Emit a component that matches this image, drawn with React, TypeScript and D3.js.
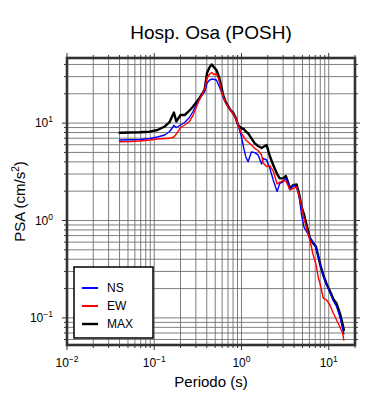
import React from 'react';
import * as d3 from 'd3';

const periods = [0.04, 0.052, 0.068, 0.089, 0.109, 0.132, 0.15, 0.168, 0.179, 0.2, 0.223, 0.25, 0.276, 0.307, 0.332, 0.36, 0.379, 0.403, 0.432, 0.456, 0.481, 0.516, 0.553, 0.589, 0.615, 0.66, 0.702, 0.748, 0.801, 0.86, 0.914, 1.0, 1.063, 1.12, 1.19, 1.3, 1.42, 1.55, 1.7, 1.77, 1.94, 2.11, 2.31, 2.56, 2.75, 3.0, 3.23, 3.43, 3.59, 3.91, 4.28, 4.58, 4.88, 5.19, 5.57, 6.08, 6.59, 7.13, 7.57, 8.07, 8.65, 9.46, 10.3, 11.3, 12.3, 13.4, 14.4, 14.9];

const nsValues = [6.71, 6.74, 6.79, 6.95, 7.2, 7.55, 8.2, 9.45, 9.01, 9.56, 10.14, 11.28, 13.0, 15.71, 17.68, 19.9, 21.01, 25.8, 27.7, 28.36, 28.16, 27.7, 24.04, 20.86, 18.54, 16.09, 14.63, 13.63, 12.4, 11.28, 9.56, 7.2, 5.51, 4.52, 4.02, 5.05, 4.97, 4.71, 3.8, 4.35, 4.18, 3.44, 2.61, 1.98, 2.41, 2.5, 2.71, 2.41, 2.06, 2.31, 2.22, 1.76, 1.139, 0.864, 0.767, 0.677, 0.602, 0.534, 0.432, 0.341, 0.269, 0.218, 0.1845, 0.1491, 0.1309, 0.1029, 0.0787, 0.0684];

const ewValues = [6.44, 6.47, 6.55, 6.71, 6.87, 6.95, 6.98, 7.2, 7.73, 9.01, 9.56, 10.26, 11.83, 14.98, 17.68, 20.37, 22.39, 29.04, 31.92, 33.07, 31.55, 31.92, 27.7, 21.61, 18.97, 16.09, 14.63, 13.63, 12.4, 11.28, 9.56, 7.82, 7.2, 6.71, 6.4, 5.96, 5.51, 5.23, 4.71, 3.89, 3.58, 3.67, 3.22, 2.37, 2.48, 2.57, 2.54, 2.26, 2.06, 2.14, 2.22, 1.785, 1.409, 1.061, 0.838, 0.631, 0.453, 0.358, 0.263, 0.2126, 0.16, 0.1527, 0.1357, 0.1115, 0.0951, 0.0812, 0.07, 0.0593];

const maxValues = [7.97, 8.01, 8.05, 8.16, 8.5, 9.23, 10.26, 12.85, 10.39, 12.11, 12.11, 13.31, 14.63, 16.59, 18.23, 20.37, 22.39, 32.69, 37.67, 39.96, 37.67, 35.09, 29.74, 23.48, 19.44, 16.47, 14.98, 13.63, 12.85, 11.28, 9.56, 8.85, 8.7, 8.2, 7.86, 6.98, 6.2, 5.82, 5.55, 5.68, 5.96, 4.59, 3.71, 3.0, 2.71, 2.71, 2.86, 2.43, 2.14, 2.31, 2.34, 1.87, 1.39, 1.166, 0.899, 0.661, 0.587, 0.541, 0.432, 0.341, 0.276, 0.223, 0.189, 0.156, 0.1405, 0.1122, 0.0866, 0.0751];

const xTickExps = [-2, -1, 0, 1];
const yTickExps = [-1, 0, 1];
const seriesNames = ['NS', 'EW', 'MAX'];
const seriesColors = ['#0000ff', '#ff0000', '#000000'];
const titleText = 'Hosp. Osa (POSH)';
const xLabel = 'Periodo (s)';

const FONT = '"Liberation Sans", Arial, Helvetica, sans-serif';

export default function App() {
  const W = 390, H = 400;
  const L = 67, R = 355, T = 58, B = 345;
  const x = d3.scaleLog().domain([0.01, 20]).range([L, R]);
  const y = d3.scaleLog().domain([0.0527, 46.6]).range([B, T]);
  const [xd0, xd1] = x.domain();
  const [yd0, yd1] = y.domain();

  const xGrid: { v: number; major: boolean }[] = [];
  for (let d = -3; d <= 2; d++) for (let m = 1; m <= 9; m++) {
    const v = m * Math.pow(10, d);
    if (v >= xd0 * 0.9999 && v <= xd1 * 1.0001) xGrid.push({ v, major: m === 1 });
  }
  const yGrid: { v: number; major: boolean }[] = [];
  for (let d = -3; d <= 2; d++) for (let m = 1; m <= 9; m++) {
    const v = m * Math.pow(10, d);
    if (v >= yd0 && v <= yd1) yGrid.push({ v, major: m === 1 });
  }

  const line = d3.line<number>()
    .x((_, i) => x(periods[i]))
    .y((v) => y(v));

  const series = [nsValues, ewValues, maxValues];
  const widths = [1.4, 1.4, 2.4];
  const drawOrder = [2, 0, 1];

  const gridColor = '#707070';
  const axisColor = '#333';

  return (
    <svg width={W} height={H} style={{ position: 'absolute', left: 0, top: 0, background: '#fff' }} fontFamily={FONT}>
      <rect x={0} y={0} width={W} height={H} fill="#fff" />
      {xGrid.map((g, i) => (
        <line key={'xg' + i} x1={x(g.v)} x2={x(g.v)} y1={T} y2={B} stroke={gridColor} strokeWidth={0.9} />
      ))}
      {yGrid.map((g, i) => (
        <line key={'yg' + i} x1={L} x2={R} y1={y(g.v)} y2={y(g.v)} stroke={gridColor} strokeWidth={0.9} />
      ))}
      <g fill="none" strokeLinejoin="round" strokeLinecap="round">
        {drawOrder.map((k) => (
          <path key={'s' + k} d={line(series[k]) || ''} stroke={seriesColors[k]} strokeWidth={widths[k]} />
        ))}
      </g>
      {xGrid.map((g, i) => {
        const len = g.major ? 5 : 3;
        const px = x(g.v);
        return (
          <g key={'xt' + i} stroke={axisColor} strokeWidth={1}>
            <line x1={px} x2={px} y1={B} y2={B + len} />
            <line x1={px} x2={px} y1={T} y2={T - len} />
          </g>
        );
      })}
      {yGrid.map((g, i) => {
        const len = g.major ? 5 : 3;
        const py = y(g.v);
        return (
          <g key={'yt' + i} stroke={axisColor} strokeWidth={1}>
            <line x1={L - len} x2={L} y1={py} y2={py} />
            <line x1={R} x2={R + len} y1={py} y2={py} />
          </g>
        );
      })}
      <rect x={L} y={T} width={R - L} height={B - T} fill="none" stroke={axisColor} strokeWidth={2.6} />
      {xTickExps.map((e) => (
        <text key={'xl' + e} x={x(Math.pow(10, e))} y={367} textAnchor="middle" fontSize={12} fill="#000">
          <tspan>10</tspan>
          <tspan dy={-5} fontSize={8.5}>{e < 0 ? '\u2212' + Math.abs(e) : String(e)}</tspan>
        </text>
      ))}
      {yTickExps.map((e) => (
        <text key={'yl' + e} x={53} y={y(Math.pow(10, e)) + 4} textAnchor="end" fontSize={12} fill="#000">
          <tspan>10</tspan>
          <tspan dy={-5} fontSize={8.5}>{e < 0 ? '\u2212' + Math.abs(e) : String(e)}</tspan>
        </text>
      ))}
      <text x={(L + R) / 2} y={39} textAnchor="middle" fontSize={19} fill="#000">{titleText}</text>
      <text x={(L + R) / 2} y={387} textAnchor="middle" fontSize={15} fill="#000">{xLabel}</text>
      <text transform={`translate(25, ${(T + B) / 2}) rotate(-90)`} textAnchor="middle" fontSize={15} fill="#000">
        <tspan>PSA (cm/s</tspan>
        <tspan dy={-6} fontSize={10}>2</tspan>
        <tspan dy={6}>)</tspan>
      </text>
      <g>
        <rect x={74} y={267} width={79} height={71} fill="#fff" stroke="#000" strokeWidth={1.5} />
        {seriesNames.map((n, i) => {
          const ly = 288 + i * 18;
          return (
            <g key={'lg' + n}>
              <line x1={82} x2={98} y1={ly} y2={ly} stroke={seriesColors[i]} strokeWidth={i === 2 ? 2.4 : 2} />
              <text x={107} y={ly + 4} fontSize={12} fill="#000">{n}</text>
            </g>
          );
        })}
      </g>
    </svg>
  );
}
